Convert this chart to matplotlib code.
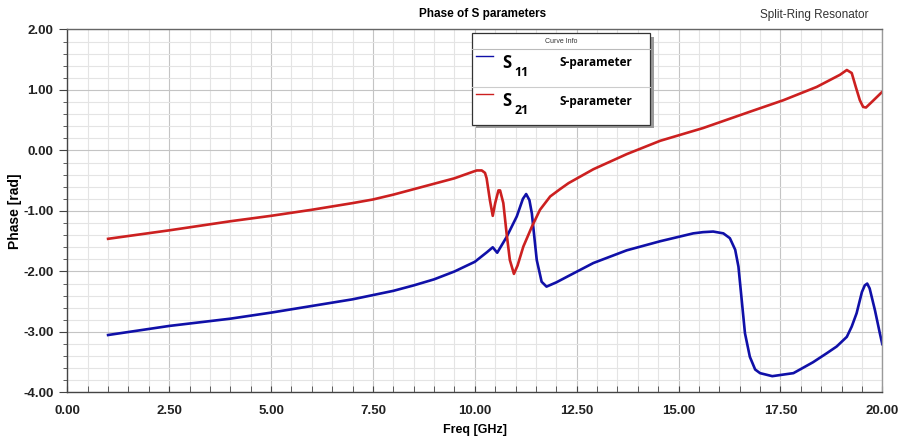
import matplotlib
matplotlib.use("Agg")
import matplotlib.pyplot as plt
from matplotlib.ticker import MultipleLocator, FormatStrFormatter
from matplotlib.patches import Rectangle
from matplotlib.lines import Line2D

plt.rcParams["font.family"] = ["Liberation Sans", "DejaVu Sans"]

# phase of S11 (GHz, rad)
s11_freq = [1.0, 2.5, 4.0, 5.0, 6.0, 7.0, 7.5, 8.0, 8.5, 9.0, 9.5, 10.0, 10.3,
            10.44, 10.55, 10.78, 11.03, 11.18, 11.26, 11.34, 11.40, 11.52, 11.64,
            11.76, 12.0, 12.34, 12.91, 13.73, 14.55, 15.36, 15.6, 15.85, 16.1,
            16.26, 16.39, 16.47, 16.55, 16.63, 16.75, 16.88, 17.0, 17.3, 17.82,
            18.3, 18.64, 18.88, 19.13, 19.25, 19.37, 19.50, 19.57, 19.63, 19.69,
            19.82, 19.94, 20.0]
s11_phase = [-3.05, -2.90, -2.78, -2.68, -2.57, -2.46, -2.39, -2.32, -2.23, -2.13,
             -2.0, -1.84, -1.68, -1.60, -1.69, -1.43, -1.09, -0.80, -0.72, -0.82,
             -1.04, -1.81, -2.17, -2.25, -2.18, -2.06, -1.86, -1.65, -1.50, -1.37,
             -1.35, -1.34, -1.37, -1.45, -1.64, -1.92, -2.47, -3.02, -3.41, -3.62,
             -3.68, -3.73, -3.68, -3.50, -3.35, -3.24, -3.08, -2.91, -2.69, -2.34,
             -2.23, -2.20, -2.28, -2.64, -3.02, -3.20]

# phase of S21 (GHz, rad)
s21_freq = [1.0, 2.5, 4.0, 5.0, 6.0, 7.0, 7.5, 8.0, 8.5, 9.0, 9.5, 9.96, 10.05,
            10.17, 10.25, 10.29, 10.37, 10.44, 10.50, 10.58, 10.62, 10.70, 10.78,
            10.86, 10.96, 11.05, 11.19, 11.40, 11.6, 11.85, 12.09, 12.3, 12.91,
            13.73, 14.55, 15.6, 16.75, 17.57, 18.39, 18.96, 19.13, 19.25, 19.35,
            19.45, 19.53, 19.6, 19.74, 20.0]
s21_phase = [-1.46, -1.32, -1.17, -1.08, -0.98, -0.87, -0.81, -0.73, -0.64, -0.55,
             -0.46, -0.35, -0.33, -0.33, -0.37, -0.46, -0.82, -1.08, -0.87, -0.66,
             -0.66, -0.87, -1.37, -1.81, -2.04, -1.90, -1.59, -1.26, -0.98, -0.76,
             -0.64, -0.54, -0.31, -0.06, 0.16, 0.37, 0.64, 0.83, 1.05, 1.25, 1.33,
             1.28, 1.05, 0.83, 0.72, 0.71, 0.80, 0.97]

curve_labels = ["11", "21"]
curve_colors = ["#1010a8", "#cc2020"]

fig = plt.figure(figsize=(8.99, 4.43), dpi=100)
ax = fig.add_axes([0.0749, 0.114, 0.9065, 0.8195])

ax.plot(s11_freq, s11_phase, color=curve_colors[0], lw=1.9, solid_joinstyle="round")
ax.plot(s21_freq, s21_phase, color=curve_colors[1], lw=1.9, solid_joinstyle="round")

ax.set_xlim(0, 20)
ax.set_ylim(-4, 2)
ax.xaxis.set_major_locator(MultipleLocator(2.5))
ax.xaxis.set_minor_locator(MultipleLocator(0.5))
ax.yaxis.set_major_locator(MultipleLocator(1.0))
ax.yaxis.set_minor_locator(MultipleLocator(0.2))
ax.xaxis.set_major_formatter(FormatStrFormatter("%.2f"))
ax.yaxis.set_major_formatter(FormatStrFormatter("%.2f"))

ax.grid(which="major", color="#c4c4c4", lw=0.8)
ax.grid(which="minor", color="#e4e4e4", lw=0.8)
ax.set_axisbelow(True)

for side in ax.spines.values():
    side.set_color("#9a9a9a")
    side.set_linewidth(1.0)
ax.spines["left"].set_color("#444444")
ax.spines["bottom"].set_color("#444444")
ax.spines["top"].set_color("#666666")

ax.tick_params(axis="x", which="both", direction="in", length=4, color="#444444",
               pad=9, labelsize=9.5, top=False)
ax.tick_params(axis="y", which="major", direction="out", length=6, color="#444444",
               pad=4, labelsize=9.5)
ax.tick_params(axis="y", which="minor", direction="out", length=3, color="#444444")
for lab in ax.get_xticklabels() + ax.get_yticklabels():
    lab.set_fontweight("bold")
    lab.set_color("#222222")

ax.set_xlabel("Freq [GHz]", fontsize=9, fontweight="bold", labelpad=5)
ax.set_ylabel("Phase [rad]", fontsize=10, fontweight="bold", labelpad=1)

fig.text(0.537, 0.968, "Phase of S parameters", ha="center", va="center",
         fontsize=8.5, fontweight="bold")
fig.text(0.966, 0.966, "Split-Ring Resonator", ha="right", va="center",
         fontsize=8.5, color="#333333")

# curve info box
bx, by, bw, bh = 0.525, 0.718, 0.198, 0.2075
fig.patches.append(Rectangle((bx + 0.004, by - 0.008), bw, bh, transform=fig.transFigure,
                             facecolor="#9a9a9a", edgecolor="none", zorder=5))
fig.patches.append(Rectangle((bx, by), bw, bh, transform=fig.transFigure,
                             facecolor="white", edgecolor="#333333", lw=0.9, zorder=6))
fig.text(bx + bw / 2, 0.907, "Curve Info", ha="center", va="center", fontsize=5,
         color="#333333", zorder=7)
fig.lines.append(Line2D([bx, bx + bw], [0.889, 0.889], transform=fig.transFigure,
                        color="#bbbbbb", lw=0.8, zorder=7))
fig.lines.append(Line2D([bx, bx + bw], [0.804, 0.804], transform=fig.transFigure,
                        color="#cccccc", lw=0.8, zorder=7))
row_y = [0.858, 0.772]
for yy, lab, col in zip(row_y, curve_labels, curve_colors):
    fig.lines.append(Line2D([bx + 0.005, bx + 0.023], [yy + 0.015, yy + 0.015],
                            transform=fig.transFigure, color=col, lw=1.0, zorder=7))
    fig.text(bx + 0.034, yy, "S", ha="left", va="center", fontsize=12,
             fontweight="bold", family=["Open Sans", "DejaVu Sans"], zorder=7)
    fig.text(bx + 0.047, yy - 0.022, lab, ha="left", va="center", fontsize=9,
             fontweight="bold", family=["Open Sans", "DejaVu Sans"], zorder=7)
    fig.text(bx + 0.097, yy, "S-parameter", ha="left", va="center", fontsize=8.5,
             fontweight="bold", family=["Open Sans", "DejaVu Sans"], zorder=7)

fig.savefig("out.png", dpi=100)
